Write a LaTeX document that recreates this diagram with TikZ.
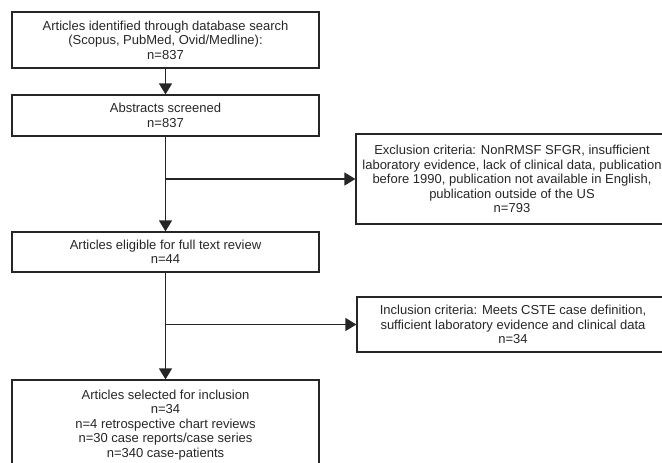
\documentclass[tikz,border=0pt]{standalone}
\usepackage{fontspec}
\setmainfont{Liberation Sans}
\usetikzlibrary{arrows.meta}
\begin{document}
\begin{tikzpicture}[x=1pt,y=-1pt,
  box/.style={draw=black!85,line width=1.2pt,align=center,inner sep=0pt,
    font=\fontsize{13}{14.5}\selectfont,text=black!85},
  conn/.style={draw=black!85,line width=1.2pt},
  arr/.style={conn,-{Triangle[length=11pt,width=13pt]}}]
\useasboundingbox (0,0) rectangle (662,463);
\clip (0,0) rectangle (662,463);
\node[box,minimum width=307pt,minimum height=56pt] (b1) at (165.5,40)
  {Articles identified through database search\\(Scopus, PubMed, Ovid/Medline):\\n=837};
\node[box,minimum width=307pt,minimum height=41pt] (b2) at (165.5,115.5)
  {Abstracts screened\\n=837};
\node[box,minimum width=307pt,minimum height=40pt] (b3) at (165.5,252)
  {Articles eligible for full text review\\n=44};
\node[box,minimum width=307pt,minimum height=90pt] (b4) at (165.5,425)
  {Articles selected for inclusion\\n=34\\n=4 retrospective chart reviews\\n=30 case reports/case series\\n=340 case-patients};
\node[box,minimum width=312pt,minimum height=90pt] (ex) at (512,179)
  {Exclusion criteria: NonRMSF SFGR, insufficient\\laboratory evidence, lack of clinical data, publication\\before 1990, publication not available in English,\\publication outside of the US\\n=793};
\node[box,minimum width=312pt,minimum height=55pt] (in) at (513,324.5)
  {Inclusion criteria: Meets CSTE case definition,\\sufficient laboratory evidence and clinical data\\n=34};
\coordinate (j1) at (165.5,179);
\coordinate (j2) at (165.5,324.5);
\draw[arr] (b1.south) -- (b2.north);
\draw[arr] (b2.south) -- (b3.north);
\draw[arr] (j1) -- (ex.west);
\draw[arr] (b3.south) -- (b4.north);
\draw[arr] (j2) -- (in.west);
\end{tikzpicture}
\end{document}
